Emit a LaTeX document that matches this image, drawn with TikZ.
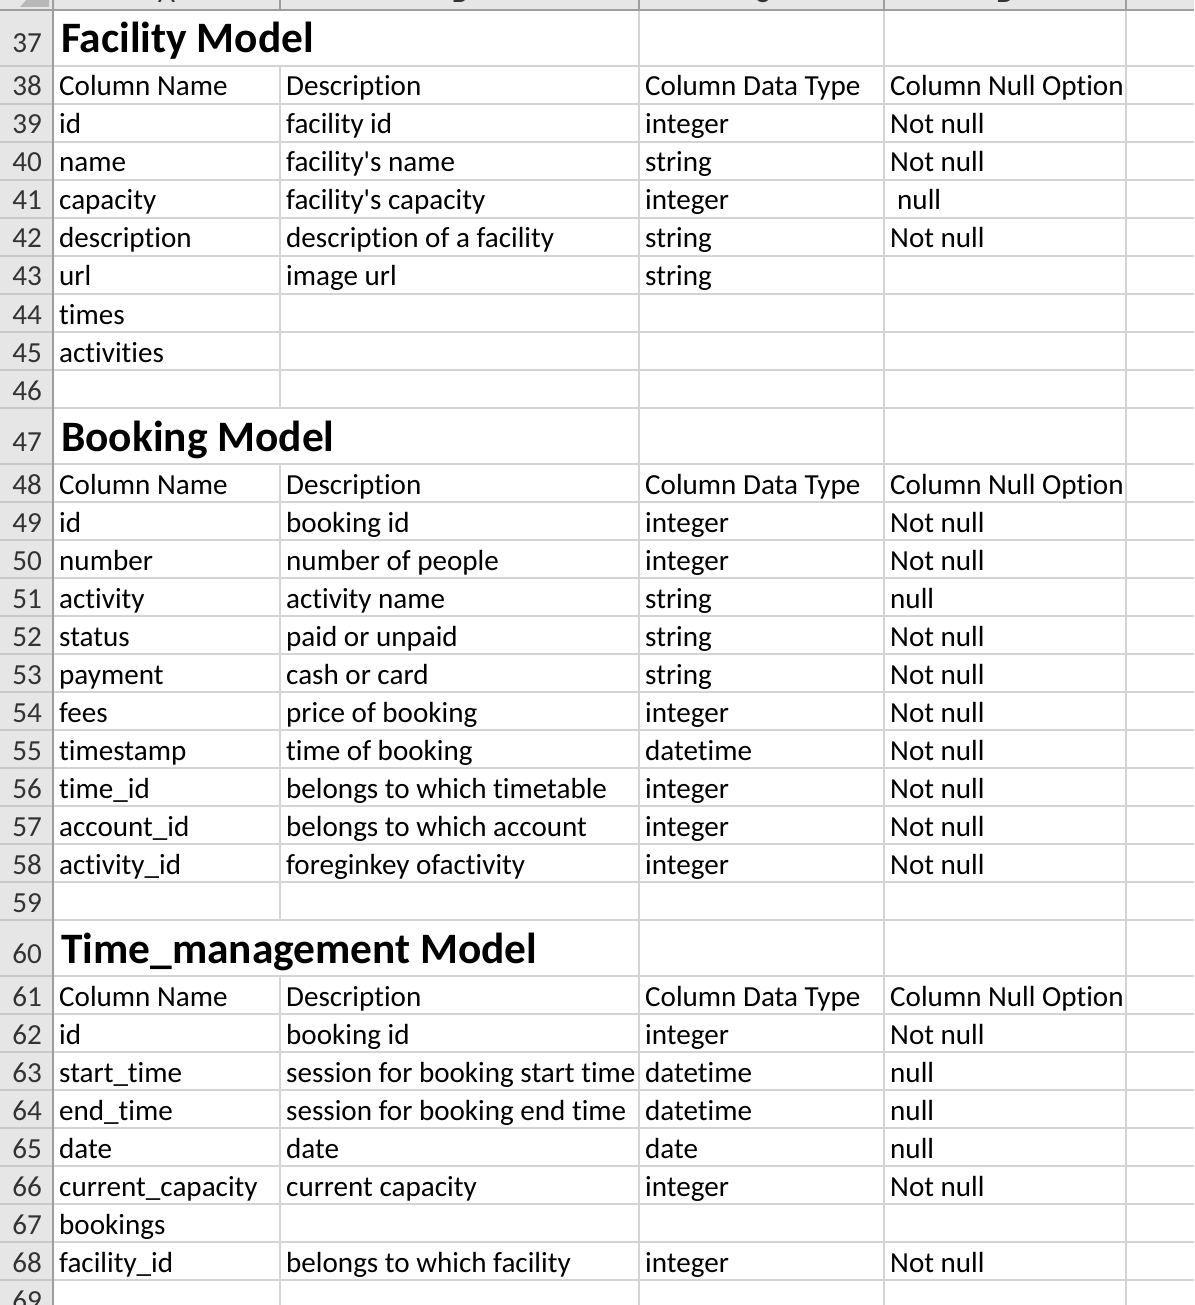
\documentclass[tikz,border=0pt]{standalone}
\usepackage{fontspec}
\setmainfont{Carlito}[Ligatures={NoCommon,TeXOff}]
\definecolor{hdrbg}{HTML}{E6E6E6}
\definecolor{gridc}{HTML}{D4D4D4}
\definecolor{hdrline}{HTML}{9E9E9E}
\definecolor{hdrsep}{HTML}{C8C8C8}
\definecolor{numc}{HTML}{333333}
\definecolor{tri}{HTML}{B8B8B8}
\tikzset{
  cell/.style={anchor=base west, inner sep=0pt, text=black, font=\fontsize{29.1}{31}\selectfont},
  titlecell/.style={anchor=base west, inner sep=0pt, text=black, font=\fontsize{43.4}{46}\selectfont\bfseries},
  rnum/.style={anchor=base, inner sep=0pt, text=numc, font=\fontsize{29.1}{31}\selectfont},
  colletter/.style={anchor=base, inner sep=0pt, text=numc, font=\fontsize{29.1}{31}\selectfont},
  grid/.style={draw=gridc, line width=1.2pt},
  hsep/.style={draw=hdrsep, line width=1.2pt},
  hline/.style={draw=hdrline, line width=1.6pt},
}
\begin{document}
\begin{tikzpicture}[x=1pt,y=-1pt,
  declare function={bl(\r)=(\r<47) ? (66+(\r-37)*38-8) : ((\r<60) ? (464+(\r-47)*38-8) : (976+(\r-60)*38-8));}]
\clip (0,0) rectangle (1194,1305);
\fill[white] (0,0) rectangle (1194,1305);
% header strip and row header
\fill[hdrbg] (0,0) rectangle (1194,10);
\fill[hdrbg] (0,0) rectangle (53,1305);
\fill[tri] (20,7) -- (49,7) -- (49,-25) -- cycle;
% column letters (mostly cut off)
\begin{scope}
\clip (53,0) rectangle (1194,10);
\node[colletter] (colA) at (166.5,3) {A};
\node[colletter] (colB) at (459.5,3) {B};
\node[colletter] (colC) at (761.5,3) {C};
\node[colletter] (colD) at (1005,3) {D};
\end{scope}
\foreach \x in {280,639,884,1126} \draw[hline, line width=1.2pt] (\x,0) -- (\x,10);
% horizontal gridlines
\foreach \y in {66,104,...,408,464,502,...,920,976,1014,...,1280} {
  \draw[grid] (53,\y) -- (1194,\y);
  \draw[hsep] (0,\y) -- (53,\y);
}
% vertical gridlines
\draw[grid] (280,66) -- (280,408);
\draw[grid] (280,464) -- (280,920);
\draw[grid] (280,976) -- (280,1305);
\foreach \x in {639,884,1126} \draw[grid] (\x,10) -- (\x,1305);
% header borders
\draw[hline] (0,10) -- (1194,10);
\draw[hline] (53,0) -- (53,1305);
% row numbers
\node[rnum] (n37) at (27,53) {37};
\node[rnum] (n47) at (27,451) {47};
\node[rnum] (n60) at (27,963) {60};
\foreach \r in {38,...,46,48,49,...,59,61,62,...,69}
  \node[rnum] (n\r) at (27,{bl(\r)}) {\r};
% titles
\node[titlecell] (t37) at (61,53) {Facility Model};
\node[titlecell] (t47) at (61,451) {Booking Model};
\node[titlecell] (t60) at (61,963) {Time\_management Model};
% column A
\foreach \r/\t in {38/Column Name,39/id,40/name,41/capacity,42/description,43/url,44/times,45/activities,
  48/Column Name,49/id,50/number,51/activity,52/status,53/payment,54/fees,55/timestamp,56/time\_id,57/account\_id,58/activity\_id,
  61/Column Name,62/id,63/start\_time,64/end\_time,65/date,66/current\_capacity,67/bookings,68/facility\_id}
  \node[cell] (a\r) at (59,{bl(\r)}) {\t};
% column B
\foreach \r/\t in {38/Description,39/facility id,40/facility's name,41/facility's capacity,42/description of a facility,43/image url,
  48/Description,49/booking id,50/number of people,51/activity name,52/paid or unpaid,53/cash or card,54/price of booking,55/time of booking,56/belongs to which timetable,57/belongs to which account,58/foreginkey ofactivity,
  61/Description,62/booking id,63/session for booking start time,64/session for booking end time,65/date,66/current capacity,68/belongs to which facility}
  \node[cell] (b\r) at (286,{bl(\r)}) {\t};
% column C
\foreach \r/\t in {38/Column Data Type,39/integer,40/string,41/integer,42/string,43/string,
  48/Column Data Type,49/integer,50/integer,51/string,52/string,53/string,54/integer,55/datetime,56/integer,57/integer,58/integer,
  61/Column Data Type,62/integer,63/datetime,64/datetime,65/date,66/integer,68/integer}
  \node[cell] (c\r) at (645,{bl(\r)}) {\t};
% column D
\foreach \r/\t in {38/Column Null Option,39/Not null,40/Not null,42/Not null,
  48/Column Null Option,49/Not null,50/Not null,51/null,52/Not null,53/Not null,54/Not null,55/Not null,56/Not null,57/Not null,58/Not null,
  61/Column Null Option,62/Not null,63/null,64/null,65/null,66/Not null,68/Not null}
  \node[cell] (d\r) at (890,{bl(\r)}) {\t};
\node[cell] (d41) at (897,{bl(41)}) {null};
\end{tikzpicture}
\end{document}
